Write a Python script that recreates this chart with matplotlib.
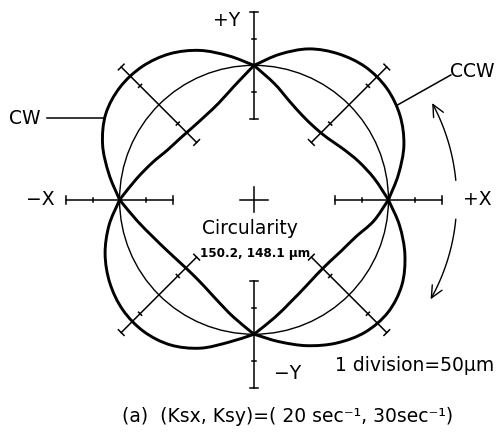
import numpy as np
import matplotlib.pyplot as plt
from matplotlib.path import Path
from matplotlib.patches import Circle, FancyArrowPatch, PathPatch

# radial deviation from the reference circle (um), every 10 deg starting at +X, counter-clockwise
angle_deg = np.arange(0, 360, 10)
cw_dev = [0, -23, -43, -60, -72, -75, -70, -56, -31,
          0, 22, 46, 64, 74, 76, 69, 50, 24,
          0, -29, -50, -63, -70, -71, -65, -51, -29,
          0, 18, 39, 58, 72, 76, 68, 49, 25]
ccw_dev = [0, 23, 47, 64, 73, 73, 64, 49, 25,
           0, -36, -59, -70, -74, -72, -65, -49, -28,
           0, 24, 45, 60, 69, 70, 62, 44, 19,
           0, -28, -49, -62, -69, -69, -62, -49, -24]
circularity = [150.2, 148.1]
gains = [20, 30]

um_per_div = 50      # 1 division = 50 um
ref_r = 5.04         # reference circle radius in divisions
lw_thick = 2.1
lw_thin = 1.0

fig = plt.figure(figsize=(5.04, 4.38), dpi=100)
ax = fig.add_axes([0, 0, 1, 1])
ax.set_xlim(-9.51, 9.36)
ax.set_ylim(-8.93, 7.49)
ax.set_aspect('equal')
ax.axis('off')

# reference circle
ax.add_patch(Circle((0, 0), ref_r, fill=False, ec='k', lw=lw_thin))


def polar_path(dev):
    """Smooth curve through the measured points, with corners kept at the axes."""
    th = np.radians(np.append(angle_deg, 360))
    r = ref_r + np.append(dev, dev[0]) / um_per_div
    pts = np.column_stack([r * np.cos(th), r * np.sin(th)])
    verts, codes = [pts[0]], [Path.MOVETO]
    for q in range(4):
        seg = pts[q * 9:q * 9 + 10]
        tan = np.zeros_like(seg)
        tan[1:-1] = (seg[2:] - seg[:-2]) / 2
        tan[0] = seg[1] - seg[0]
        tan[-1] = seg[-1] - seg[-2]
        for i in range(len(seg) - 1):
            verts += [seg[i] + tan[i] / 3, seg[i + 1] - tan[i + 1] / 3, seg[i + 1]]
            codes += [Path.CURVE4] * 3
    return Path(verts, codes)


for dev in (cw_dev, ccw_dev):
    ax.add_patch(PathPatch(polar_path(np.asarray(dev, float)), fill=False,
                           ec='k', lw=lw_thick, joinstyle='round'))


def scale_bar(theta_deg):
    th = np.radians(theta_deg)
    u = np.array([np.cos(th), np.sin(th)])
    n = np.array([-u[1], u[0]])
    p0, p1 = (ref_r - 2) * u, (ref_r + 2) * u
    ax.plot([p0[0], p1[0]], [p0[1], p1[1]], color='k', lw=1.1)
    for k, h in [(-2, 0.15), (-1, 0.08), (1, 0.08), (2, 0.15)]:
        c = (ref_r + k) * u
        ax.plot([c[0] - h * n[0], c[0] + h * n[0]],
                [c[1] - h * n[1], c[1] + h * n[1]], color='k', lw=1.1)


for a in range(0, 360, 45):
    scale_bar(a)

# centre mark
ax.plot([-0.52, 0.52], [0, 0], color='k', lw=1.1)
ax.plot([0, 0], [-0.47, 0.47], color='k', lw=1.1)


# rotation arrows
def rot_arrow(a0, a1, rad=7.6):
    t = np.radians(np.linspace(a0, a1, 30))
    verts = np.column_stack([rad * np.cos(t), rad * np.sin(t)])
    arr = FancyArrowPatch(path=Path(verts), arrowstyle='->,head_length=8.5,head_width=4',
                          color='k', lw=1.0)
    ax.add_patch(arr)


rot_arrow(5.5, 28.5)
rot_arrow(-5.5, -29.4)

txt = dict(fontsize=13.5, color='k', ha='center', va='center', family='DejaVu Sans')
ax.text(-1.03, 6.72, '+Y', **txt)
ax.text(-8.0, 0.0, '\u2212X', **txt)
ax.text(8.39, 0.0, '+X', **txt)
ax.text(1.24, -6.52, '\u2212Y', **txt)
ax.text(-8.61, 3.05, 'CW', **txt)
ax.text(8.20, 4.81, 'CCW', **txt)
ax.plot([-7.75, -5.58], [3.07, 3.07], color='k', lw=1.1)
ax.plot([7.38, 5.39], [4.68, 3.56], color='k', lw=1.1)

ax.text(-0.15, -1.09, 'Circularity', **txt)
ax.text(0.04, -2.0, f'{circularity[0]}, {circularity[1]} \u00b5m', fontsize=9.5,
        fontweight='bold', fontstretch='condensed', ha='center', va='center',
        family='DejaVu Sans')
ax.text(6.03, -6.22, f'1 division={um_per_div}\u00b5m', **txt)
ax.text(1.27, -8.13,
        f'(a)  (Ksx, Ksy)=( {gains[0]} sec\u207b\u00b9, {gains[1]}sec\u207b\u00b9)', **txt)

fig.savefig('out.png', dpi=100)
